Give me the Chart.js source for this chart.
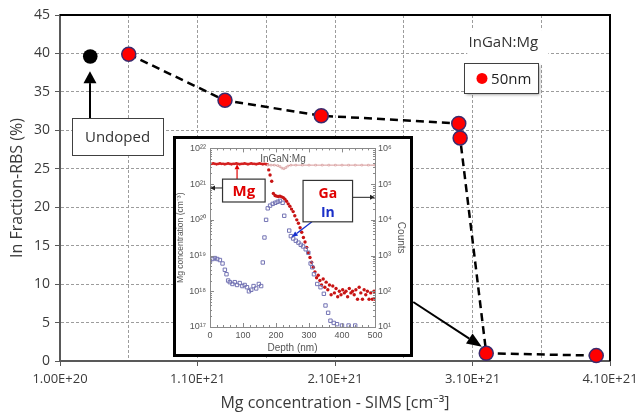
<!DOCTYPE html>
<html><head><meta charset="utf-8">
<script src="https://cdn.jsdelivr.net/npm/chart.js@4.4.1/dist/chart.umd.min.js"></script>
<style>
html,body{margin:0;padding:0;background:#fff;}
#wrap{position:relative;width:637px;height:416px;overflow:hidden;}
#main{position:absolute;left:0;top:0;}
#inset{position:absolute;box-sizing:border-box;border:3px solid #000;background:#fff;}
#inset canvas{display:block;}
</style></head><body>
<div id="wrap"><canvas id="main" width="637" height="416"></canvas><div id="inset"><canvas id="insetCanvas"></canvas></div></div>
<script>
// ---- main chart data ----
const mgConc = [6.0e20, 1.30e21, 2.0e21, 3.0e21, 3.01e21, 3.2e21, 4.0e21];
const inFraction = [39.9, 33.9, 31.9, 30.9, 29.0, 1.0, 0.7];
const undopedConc = [3.2e20];
const undopedIn = [39.6];
const xTickValues = [1e20, 6e20, 1.1e21, 1.6e21, 2.1e21, 2.6e21, 3.1e21, 3.6e21, 4.1e21];
const xTickLabels = ['1.00E+20', '', '1.10E+21', '', '2.10E+21', '', '3.10E+21', '', '4.10E+21'];
const yTickValues = [0, 5, 10, 15, 20, 25, 30, 35, 40, 45];

// ---- inset (SIMS profile) data ----
const mgFlatDepth = [0,5,10,15,20,25,30,35,40,45,50,55,60,65,70,75,80,85,90,95,100,105,110,115,120,125,130,135,140,145,150,155,160,165,170,175];
const mgFlatConc = [3.6e21,3.7e21,3.8e21,3.7e21,3.6e21,3.7e21,3.8e21,3.7e21,3.7e21,3.6e21,3.7e21,3.8e21,3.7e21,3.6e21,3.7e21,3.7e21,3.8e21,3.7e21,3.6e21,3.7e21,3.7e21,3.8e21,3.7e21,3.6e21,3.7e21,3.8e21,3.7e21,3.7e21,3.6e21,3.7e21,3.8e21,3.7e21,3.6e21,3.7e21,3.6e21,3.5e21];
const gaDepth = [175,185,195,205,212,218,224,230,236,245,260,280,300,320,340,360,380,400,420,440,460,480,500];
const gaLevel = [3.4e21,3.4e21,3.4e21,3.3e21,3.1e21,2.8e21,2.7e21,2.9e21,3.2e21,3.4e21,3.4e21,3.4e21,3.4e21,3.4e21,3.4e21,3.4e21,3.4e21,3.4e21,3.4e21,3.4e21,3.4e21,3.4e21,3.4e21];
const redDepth = [178,182,187,192,197,202,207,212,217,222,227,232,237,242,247,252,257,263,268,273,278,283,288,293,298,303,308,313,318,323,328,333,338,343,348,352,357,362,367,372,377,382,387,392,397,402,407,412,417,422,427,432,437,442,447,452,457,462,467,472,477,482,487,492,497,500];
const redValue = [2.5e21,1.8e21,1.2e21,5.5e20,4.8e20,4.6e20,4.5e20,4.6e20,4.4e20,4.2e20,3.8e20,3.3e20,2.8e20,2.4e20,2.0e20,1.7e20,1.3e20,1.0e20,8e19,6e19,4.5e19,3.2e19,2.4e19,1.7e19,1.2e19,8.8e18,6.5e18,4.7e18,3.5e18,2.4e18,2.8e18,2.0e18,1.5e18,2.2e18,1.3e18,1.8e18,1.1e18,1.5e18,8e17,1.4e18,9e17,1.2e18,7e17,1.0e18,8e17,1.1e18,9e17,1.0e18,7e17,1.2e18,9e17,1.0e18,8e17,1.1e18,6e17,1.3e18,9e17,6e17,1.1e18,8e17,1.0e18,6e17,9e17,6e17,1.0e18,6e17];
const inDepth = [0,8,15,22,30,38,45,50,55,60,68,75,82,90,98,105,112,118,125,132,140,148,155,160,165,170,175,182,190,198,205,212,220,225,240,245,252,260,268,275,282,290,298,305,310,315,325,335,345,350,358,365,375,385,400,420,440];
const inValue = [7e18,8e18,8.5e18,8e18,7.5e18,6e18,4e18,3e18,2e18,1.8e18,1.6e18,1.8e18,1.5e18,1.7e18,1.4e18,1.5e18,1.3e18,1e18,1.1e18,1.4e18,1.2e18,1.6e18,1.4e18,6.4e18,3.2e19,1e20,2.1e20,2.5e20,2.8e20,3e20,3.2e20,3.4e20,3e20,1.3e20,5e19,3.5e19,3e19,2.6e19,2.3e19,2e19,1.8e19,1.5e19,1.2e19,6e18,4.7e18,3e18,1.6e18,1.3e18,8.5e17,4e17,2.5e17,1.5e17,1.3e17,1.2e17,1.1e17,1.1e17,1.1e17];
const insetLeftTicks = [1e17, 1e18, 1e19, 1e20, 1e21, 1e22];
const insetLeftLabels = ['10¹⁷', '10¹⁸', '10¹⁹', '10²⁰', '10²¹', '10²²'];
const insetRightTicks = [1e1, 1e2, 1e3, 1e4, 1e5, 1e6];
const insetRightLabels = ['10¹', '10²', '10³', '10⁴', '10⁵', '10⁶'];
const depthTicks = [0, 100, 200, 300, 400, 500];

// ---- annotation anchors (data units) ----
const ann = {
  undopedBox: {x0: 1.87e20, x1: 8.5e20, y0: 31.6, y1: 26.8},
  undopedArrow: {x: 3.18e20, yFrom: 31.6, yTo: 37.7},
  legendTitle: {x: 3.324e21, y: 41.35, bx0: 3.062e21, bx1: 3.652e21, by0: 43.04, by1: 38.75},
  legendBox: {x0: 3.040e21, x1: 3.579e21, y0: 38.75, y1: 34.85, mx: 3.169e21, my: 36.75, tx: 3.235e21},
  insetBox: {x0: 9.22e20, x1: 2.669e21, y0: 29.26, y1: 0.52},
  insetArrow: {x0: 2.669e21, y0: 7.67, x1: 3.168e21, y1: 1.85}
};
const FONT = "'Open Sans', 'Noto Sans', sans-serif";
const SFONT = "'Liberation Sans', Arial, sans-serif";

function arrow(ctx, x1, y1, x2, y2, hl, hw, color, lw) {
  const a = Math.atan2(y2 - y1, x2 - x1);
  const bx = x2 - hl * Math.cos(a), by = y2 - hl * Math.sin(a);
  ctx.save();
  ctx.strokeStyle = color; ctx.fillStyle = color; ctx.lineWidth = lw; ctx.setLineDash([]);
  ctx.beginPath(); ctx.moveTo(x1, y1); ctx.lineTo(bx, by); ctx.stroke();
  ctx.beginPath(); ctx.moveTo(x2, y2);
  ctx.lineTo(bx + hw / 2 * Math.sin(a), by - hw / 2 * Math.cos(a));
  ctx.lineTo(bx - hw / 2 * Math.sin(a), by + hw / 2 * Math.cos(a));
  ctx.closePath(); ctx.fill();
  ctx.restore();
}

const mainAnn = {
  id: 'mainAnn',
  afterDraw(chart) {
    const ctx = chart.ctx, xs = chart.scales.x, ys = chart.scales.y, ca = chart.chartArea;
    const X = v => xs.getPixelForValue(v), Y = v => ys.getPixelForValue(v);
    ctx.save();
    // frame top/right
    ctx.strokeStyle = '#000'; ctx.lineWidth = 2; ctx.setLineDash([]);
    ctx.beginPath(); ctx.moveTo(ca.left, ca.top); ctx.lineTo(ca.right, ca.top); ctx.lineTo(ca.right, ca.bottom); ctx.stroke();
    // Undoped box
    const ub = ann.undopedBox;
    const ux0 = X(ub.x0), ux1 = X(ub.x1), uy0 = Y(ub.y0), uy1 = Y(ub.y1);
    ctx.fillStyle = '#fff'; ctx.fillRect(ux0, uy0, ux1 - ux0, uy1 - uy0);
    ctx.strokeStyle = '#404040'; ctx.lineWidth = 1;
    ctx.strokeRect(Math.round(ux0) + 0.5, Math.round(uy0) + 0.5, Math.round(ux1 - ux0), Math.round(uy1 - uy0));
    ctx.fillStyle = '#333'; ctx.font = '15px ' + FONT; ctx.textAlign = 'center'; ctx.textBaseline = 'middle';
    ctx.fillText('Undoped', (ux0 + ux1) / 2, (uy0 + uy1) / 2 + 1);
    const ua = ann.undopedArrow;
    arrow(ctx, X(ua.x), Y(ua.yFrom), X(ua.x), Y(ua.yTo), 12, 13, '#000', 2);
    // legend title
    const lt = ann.legendTitle;
    ctx.fillStyle = '#fff';
    ctx.fillRect(X(lt.bx0), Y(lt.by0), X(lt.bx1) - X(lt.bx0), Y(lt.by1) - Y(lt.by0));
    ctx.fillStyle = '#333'; ctx.font = '15px ' + FONT;
    ctx.fillText('InGaN:Mg', X(lt.x), Y(lt.y));
    // legend box
    const lb = ann.legendBox;
    const lx0 = X(lb.x0), lx1 = X(lb.x1), ly0 = Y(lb.y0), ly1 = Y(lb.y1);
    ctx.save();
    ctx.shadowColor = 'rgba(0,0,0,0.45)'; ctx.shadowBlur = 3; ctx.shadowOffsetX = 2; ctx.shadowOffsetY = 2;
    ctx.fillStyle = '#fff'; ctx.fillRect(lx0, ly0, lx1 - lx0, ly1 - ly0);
    ctx.restore();
    ctx.strokeStyle = '#404040'; ctx.lineWidth = 1;
    ctx.strokeRect(Math.round(lx0) + 0.5, Math.round(ly0) + 0.5, Math.round(lx1 - lx0), Math.round(ly1 - ly0));
    ctx.beginPath(); ctx.arc(X(lb.mx), Y(lb.my), 5.5, 0, Math.PI * 2);
    ctx.fillStyle = '#ff0000'; ctx.fill();
    ctx.fillStyle = '#222'; ctx.textAlign = 'left'; ctx.font = '15px ' + FONT;
    ctx.fillText('50nm', X(lb.tx), Y(lb.my) + 1);
    // arrow from inset to the 3.2e21 point
    const ia = ann.insetArrow;
    arrow(ctx, X(ia.x0), Y(ia.y0), X(ia.x1), Y(ia.y1), 15, 12, '#000', 2);
    ctx.restore();
  }
};

const tickFont = {family: FONT, size: 13};
const mainChart = new Chart(document.getElementById('main'), {
  type: 'scatter',
  data: {
    datasets: [
      {
        label: '50nm',
        data: mgConc.map((x, i) => ({x: x, y: inFraction[i]})),
        showLine: true, borderColor: '#000', borderWidth: 2.5, borderDash: [8, 5],
        pointRadius: 7, pointBackgroundColor: '#ff0000', pointBorderColor: '#3b2b6d', pointBorderWidth: 1.5,
        clip: false
      },
      {
        label: 'Undoped',
        data: undopedConc.map((x, i) => ({x: x, y: undopedIn[i]})),
        showLine: false, pointRadius: 7.3, pointBackgroundColor: '#000', pointBorderColor: '#000', pointBorderWidth: 0,
        clip: false
      }
    ]
  },
  options: {
    responsive: false, animation: false, devicePixelRatio: 1,
    layout: {padding: {top: 15, right: 27, left: 0, bottom: 0}},
    plugins: {legend: {display: false}, tooltip: {enabled: false}},
    scales: {
      x: {
        type: 'linear', min: 1e20, max: 4.1e21,
        afterBuildTicks: s => { s.ticks = xTickValues.map(v => ({value: v})); },
        afterFit: s => { s.height = 55; s.paddingLeft = 0; s.paddingRight = 0; },
        ticks: {callback: (v, i) => xTickLabels[i], font: tickFont, color: '#3a3a3a', padding: 5, maxRotation: 0, autoSkip: false},
        grid: {color: '#9c9c9c', lineWidth: 1, tickLength: 5, tickColor: c => (c.index % 2 === 0 ? '#595959' : 'rgba(0,0,0,0)')},
        border: {color: '#595959', width: 2, dash: [3, 2]},
        title: {display: true, text: 'Mg concentration - SIMS [cm⁻³]', font: {family: FONT, size: 16}, color: '#3a3a3a', padding: {top: 0, bottom: 3}}
      },
      y: {
        type: 'linear', min: 0, max: 45,
        afterBuildTicks: s => { s.ticks = yTickValues.map(v => ({value: v})); },
        afterFit: s => { s.width = 60; },
        ticks: {font: {family: FONT, size: 14}, color: '#3a3a3a', padding: 5},
        grid: {color: '#9c9c9c', lineWidth: 1, tickLength: 5, tickColor: '#595959'},
        border: {color: '#595959', width: 2, dash: [3, 2]},
        title: {display: true, text: 'In Fraction-RBS (%)', font: {family: FONT, size: 16}, color: '#3a3a3a', padding: {top: 8, bottom: 0}}
      }
    }
  },
  plugins: [mainAnn]
});

// ---- place inset using the main chart's scales ----
const mx = mainChart.scales.x, my = mainChart.scales.y;
const ib = ann.insetBox;
const iL = Math.round(mx.getPixelForValue(ib.x0)), iR = Math.round(mx.getPixelForValue(ib.x1));
const iT = Math.round(my.getPixelForValue(ib.y0)), iB = Math.round(my.getPixelForValue(ib.y1));
const insetDiv = document.getElementById('inset');
insetDiv.style.left = iL + 'px'; insetDiv.style.top = iT + 'px';
insetDiv.style.width = (iR - iL) + 'px'; insetDiv.style.height = (iB - iT) + 'px';
const ic = document.getElementById('insetCanvas');
ic.width = iR - iL - 6; ic.height = iB - iT - 6;

const iann = {
  title: {x: 221, y: 5.1e21},
  mgBox: {x0: 38, x1: 167, y0: 1.38e21, y1: 3.16e20},
  mgUp: {x: 82, yFrom: 1.38e21, yTo: 3.6e21},
  mgLeft: {y: 7.8e20, xFrom: 38, xTo: 0},
  gaBox: {x0: 282, x1: 432, y0: 1.27e21, y1: 8.8e19, tx: 357, gaY: 5.4e20, inY: 1.58e20},
  gaRight: {y: 4.27e20, xFrom: 432, xTo: 500},
  inArrow: {x0: 309, y0: 8.8e19, x1: 248, y1: 3.3e19}
};

const insetAnn = {
  id: 'insetAnn',
  afterDraw(chart) {
    const ctx = chart.ctx, xs = chart.scales.x, ys = chart.scales.y, ca = chart.chartArea;
    const X = v => xs.getPixelForValue(v), Y = v => ys.getPixelForValue(v);
    ctx.save();
    ctx.strokeStyle = '#8a8a8a'; ctx.lineWidth = 1;
    ctx.strokeRect(Math.round(ca.left) + 0.5, Math.round(ca.top) + 0.5, Math.round(ca.right - ca.left), Math.round(ca.bottom - ca.top));
    ctx.beginPath();
    for (let d = 0; d <= 500; d += 20) {
      const len = d % 100 === 0 ? 4 : 2, px = Math.round(X(d)) + 0.5;
      ctx.moveTo(px, ca.bottom); ctx.lineTo(px, ca.bottom - len);
      ctx.moveTo(px, ca.top); ctx.lineTo(px, ca.top + len);
    }
    for (let e = 17; e < 22; e++) {
      for (let m = 1; m < 10; m++) {
        const py = Math.round(Y(m * Math.pow(10, e))) + 0.5, len = m === 1 ? 4 : 2;
        ctx.moveTo(ca.left, py); ctx.lineTo(ca.left + len, py);
        ctx.moveTo(ca.right, py); ctx.lineTo(ca.right - len, py);
      }
    }
    ctx.stroke();
    ctx.fillStyle = '#555'; ctx.font = '10px ' + SFONT; ctx.textAlign = 'center'; ctx.textBaseline = 'middle';
    ctx.fillText('InGaN:Mg', X(iann.title.x), Y(iann.title.y));
    const b = iann.mgBox;
    let x0 = X(b.x0), x1 = X(b.x1), y0 = Y(b.y0), y1 = Y(b.y1);
    arrow(ctx, X(iann.mgUp.x), Y(iann.mgUp.yFrom), X(iann.mgUp.x), Y(iann.mgUp.yTo), 5, 5, '#e00000', 1.2);
    arrow(ctx, X(iann.mgLeft.xFrom), Y(iann.mgLeft.y), X(iann.mgLeft.xTo), Y(iann.mgLeft.y), 5, 5, '#222', 1);
    ctx.fillStyle = '#fff'; ctx.fillRect(x0, y0, x1 - x0, y1 - y0);
    ctx.strokeStyle = '#333'; ctx.lineWidth = 1.2; ctx.strokeRect(x0, y0, x1 - x0, y1 - y0);
    ctx.fillStyle = '#e00000'; ctx.font = 'bold 15px ' + FONT;
    ctx.fillText('Mg', (x0 + x1) / 2, (y0 + y1) / 2 + 1);
    const g = iann.gaBox;
    x0 = X(g.x0); x1 = X(g.x1); y0 = Y(g.y0); y1 = Y(g.y1);
    arrow(ctx, X(iann.gaRight.xFrom), Y(iann.gaRight.y), X(iann.gaRight.xTo), Y(iann.gaRight.y), 5, 5, '#222', 1);
    arrow(ctx, X(iann.inArrow.x0), Y(iann.inArrow.y0), X(iann.inArrow.x1), Y(iann.inArrow.y1), 6, 5, '#1530d0', 1.3);
    ctx.fillStyle = '#fff'; ctx.fillRect(x0, y0, x1 - x0, y1 - y0);
    ctx.strokeStyle = '#333'; ctx.lineWidth = 1.2; ctx.strokeRect(x0, y0, x1 - x0, y1 - y0);
    ctx.font = 'bold 14px ' + FONT;
    ctx.fillStyle = '#e00000'; ctx.fillText('Ga', X(g.tx), Y(g.gaY));
    ctx.fillStyle = '#1a2fc8'; ctx.fillText('In', X(g.tx), Y(g.inY));
    ctx.restore();
  }
};

const smallTick = {family: SFONT, size: 9};
const insetChart = new Chart(ic, {
  type: 'scatter',
  data: {
    datasets: [
      {data: gaDepth.map((x, i) => ({x: x, y: gaLevel[i]})), showLine: true, borderColor: '#d79a9a', borderWidth: 1,
       pointRadius: 1.2, pointStyle: 'rect', pointBackgroundColor: '#fff', pointBorderColor: '#d08a8a', pointBorderWidth: 0.6},
      {data: mgFlatDepth.map((x, i) => ({x: x, y: mgFlatConc[i]})), showLine: true, borderColor: '#d42020', borderWidth: 1.5,
       pointRadius: 1.4, pointBackgroundColor: '#d42020', pointBorderWidth: 0},
      {data: inDepth.map((x, i) => ({x: x, y: inValue[i]})), showLine: false, pointStyle: 'rect', pointRadius: 2.4,
       pointBackgroundColor: 'rgba(255,255,255,0)', pointBorderColor: '#7474b4', pointBorderWidth: 1},
      {data: redDepth.map((x, i) => ({x: x, y: redValue[i]})), showLine: false, pointRadius: 1.7,
       pointBackgroundColor: '#c81414', pointBorderWidth: 0}
    ]
  },
  options: {
    responsive: false, animation: false, devicePixelRatio: 1,
    layout: {padding: {top: 8, right: 0, left: 0, bottom: 0}},
    plugins: {legend: {display: false}, tooltip: {enabled: false}},
    scales: {
      x: {
        type: 'linear', min: 0, max: 500,
        afterBuildTicks: s => { s.ticks = depthTicks.map(v => ({value: v})); },
        afterFit: s => { s.height = 27; s.paddingLeft = 0; s.paddingRight = 0; },
        ticks: {font: smallTick, color: '#555', padding: 3, maxRotation: 0, autoSkip: false},
        grid: {display: false, drawTicks: false},
        border: {display: false},
        title: {display: true, text: 'Depth (nm)', font: {family: SFONT, size: 10, lineHeight: 1.1}, color: '#555', padding: {top: 0, bottom: 0}}
      },
      y: {
        type: 'logarithmic', position: 'left', min: 1e17, max: 1e22,
        afterBuildTicks: s => { s.ticks = insetLeftTicks.map(v => ({value: v})); },
        afterFit: s => { s.width = 34; },
        ticks: {callback: (v, i) => insetLeftLabels[i], font: smallTick, color: '#555', padding: 4},
        grid: {display: false, drawTicks: false},
        border: {display: false},
        title: {display: true, text: 'Mg concentration (cm⁻³)', font: {family: SFONT, size: 8.5, lineHeight: 1}, color: '#555', padding: {top: 0, bottom: 0}}
      },
      y2: {
        type: 'logarithmic', position: 'right', min: 1e1, max: 1e6,
        afterBuildTicks: s => { s.ticks = insetRightTicks.map(v => ({value: v})); },
        afterFit: s => { s.width = 35; },
        ticks: {callback: (v, i) => insetRightLabels[i], font: smallTick, color: '#555', padding: 3},
        grid: {display: false, drawTicks: false},
        border: {display: false},
        title: {display: true, text: 'Counts', font: {family: SFONT, size: 10, lineHeight: 1.1}, color: '#555', padding: {top: 4, bottom: 0}}
      }
    }
  },
  plugins: [insetAnn]
});
</script>
</body></html>
